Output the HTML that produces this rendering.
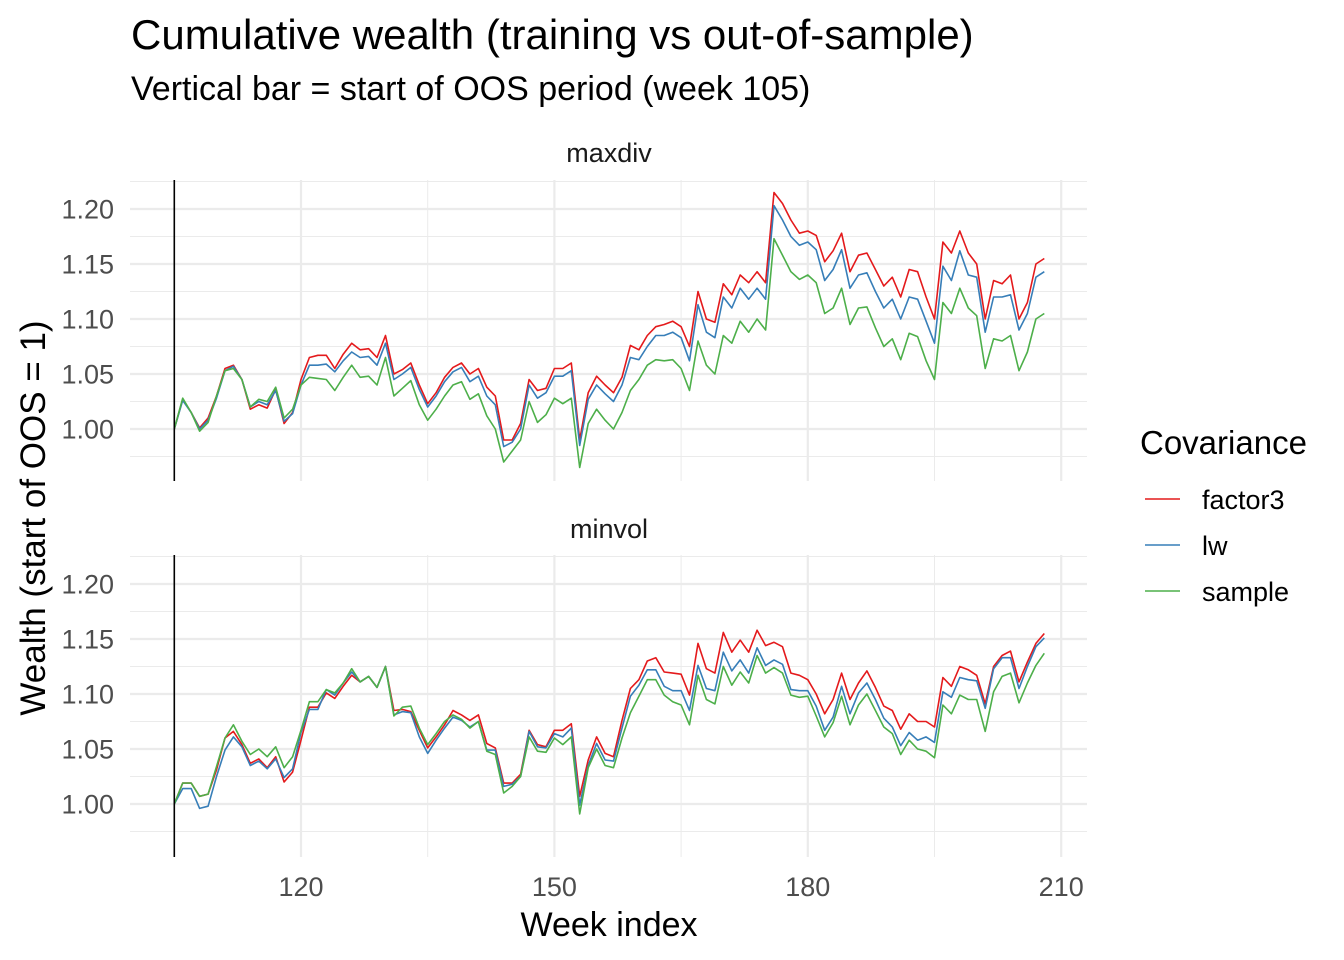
<!DOCTYPE html>
<html><head><meta charset="utf-8"><style>
body{margin:0;background:#fff;}
svg{display:block;font-family:"Liberation Sans",Arial,sans-serif;}
</style></head><body>
<svg id="chart" width="1344" height="960">
<text x="131" y="49" font-size="42" fill="#000">Cumulative wealth (training vs out-of-sample)</text>
<text x="131" y="100" font-size="34" fill="#000">Vertical bar = start of OOS period (week 105)</text>
<text x="609" y="162" font-size="27" fill="#1a1a1a" text-anchor="middle">maxdiv</text>
<text x="609" y="538" font-size="27" fill="#1a1a1a" text-anchor="middle">minvol</text>
<text x="609" y="936" font-size="34" fill="#000" text-anchor="middle">Week index</text>
<text transform="translate(45,518) rotate(-90)" font-size="35" fill="#000" text-anchor="middle">Wealth (start of OOS = 1)</text>
<g>
<text x="1140" y="454" font-size="33" fill="#000">Covariance</text>
<g><line x1="1145" x2="1180" y1="499" y2="499" stroke="#E41A1C" stroke-width="1.6"/><text x="1202" y="509" font-size="27">factor3</text></g>
<g><line x1="1145" x2="1180" y1="545" y2="545" stroke="#377EB8" stroke-width="1.6"/><text x="1202" y="555" font-size="27">lw</text></g>
<g><line x1="1145" x2="1180" y1="591" y2="591" stroke="#4DAF4A" stroke-width="1.6"/><text x="1202" y="601" font-size="27">sample</text></g>
</g>
<g id="plots"></g>
</svg>
<script>
const startWeek = 105;
const xTicks = [120, 150, 180, 210];
const xMinor = [105, 135, 165, 195];
const yTicks = [1.00, 1.05, 1.10, 1.15, 1.20];
const yTickLabels = ["1.00", "1.05", "1.10", "1.15", "1.20"];
const yMinor = [0.975, 1.025, 1.075, 1.125, 1.175, 1.225];
const seriesNames = ["factor3", "lw", "sample"];
const maxdivFactor3 = [1.000,1.027,1.015,1.001,1.010,1.030,1.055,1.058,1.045,1.018,1.022,1.019,1.036,1.005,1.015,
1.045,1.065,1.067,1.067,1.055,1.068,1.078,1.072,1.073,1.065,1.085,1.050,1.054,1.060,1.040,
1.023,1.033,1.047,1.056,1.060,1.050,1.055,1.038,1.030,0.990,0.990,1.005,1.045,1.035,1.037,
1.055,1.055,1.060,0.990,1.033,1.048,1.040,1.033,1.047,1.076,1.072,1.085,1.093,1.095,1.098,
1.093,1.075,1.125,1.100,1.097,1.132,1.122,1.140,1.133,1.143,1.133,1.215,1.205,1.190,1.178,
1.180,1.176,1.152,1.162,1.178,1.143,1.158,1.160,1.145,1.130,1.138,1.120,1.145,1.143,1.120,
1.100,1.170,1.160,1.180,1.160,1.150,1.100,1.135,1.132,1.140,1.100,1.115,1.150,1.155];
const maxdivLw = [1.000,1.026,1.015,1.000,1.008,1.028,1.053,1.057,1.045,1.020,1.025,1.022,1.035,1.007,1.014,
1.040,1.058,1.058,1.059,1.052,1.062,1.070,1.065,1.066,1.058,1.078,1.045,1.050,1.056,1.036,
1.020,1.030,1.043,1.052,1.056,1.043,1.048,1.030,1.022,0.984,0.988,1.000,1.040,1.028,1.033,
1.048,1.048,1.053,0.985,1.027,1.040,1.032,1.025,1.040,1.065,1.063,1.075,1.085,1.085,1.088,
1.083,1.062,1.113,1.088,1.083,1.120,1.110,1.128,1.118,1.128,1.118,1.203,1.190,1.175,1.167,
1.170,1.163,1.135,1.145,1.163,1.128,1.140,1.142,1.125,1.110,1.118,1.100,1.120,1.118,1.098,
1.078,1.148,1.135,1.162,1.140,1.138,1.088,1.120,1.120,1.122,1.090,1.105,1.138,1.143];
const maxdivSample = [1.000,1.028,1.015,0.998,1.006,1.030,1.053,1.055,1.045,1.020,1.027,1.025,1.038,1.010,1.018,
1.040,1.047,1.046,1.045,1.035,1.047,1.058,1.047,1.048,1.040,1.065,1.030,1.037,1.044,1.022,
1.008,1.018,1.030,1.040,1.043,1.027,1.032,1.012,1.000,0.970,0.980,0.990,1.025,1.006,1.013,
1.028,1.023,1.028,0.965,1.005,1.018,1.008,1.000,1.015,1.035,1.045,1.058,1.063,1.062,1.063,
1.055,1.035,1.080,1.058,1.050,1.085,1.078,1.098,1.088,1.100,1.090,1.173,1.158,1.143,1.136,
1.140,1.133,1.105,1.110,1.128,1.095,1.110,1.111,1.092,1.075,1.082,1.063,1.087,1.084,1.062,
1.045,1.115,1.105,1.128,1.110,1.103,1.055,1.082,1.080,1.085,1.053,1.070,1.100,1.105];
const minvolFactor3 = [1.000,1.019,1.019,1.007,1.009,1.031,1.060,1.066,1.054,1.037,1.041,1.033,1.043,1.020,1.029,
1.058,1.088,1.088,1.101,1.096,1.107,1.117,1.111,1.116,1.106,1.125,1.085,1.086,1.084,1.067,
1.051,1.061,1.072,1.085,1.081,1.076,1.081,1.055,1.051,1.019,1.019,1.027,1.067,1.054,1.052,
1.067,1.067,1.073,1.007,1.040,1.061,1.046,1.043,1.076,1.105,1.113,1.130,1.133,1.120,1.119,
1.118,1.099,1.146,1.123,1.119,1.156,1.138,1.149,1.138,1.158,1.144,1.147,1.143,1.119,1.117,
1.113,1.100,1.082,1.095,1.119,1.095,1.110,1.121,1.106,1.089,1.085,1.068,1.082,1.075,1.075,
1.070,1.115,1.107,1.125,1.122,1.117,1.091,1.125,1.135,1.139,1.111,1.129,1.146,1.155];
const minvolLw = [1.000,1.014,1.014,0.996,0.998,1.025,1.049,1.061,1.052,1.035,1.039,1.032,1.041,1.024,1.032,
1.065,1.086,1.086,1.104,1.099,1.110,1.120,1.111,1.116,1.106,1.125,1.081,1.084,1.083,1.061,
1.046,1.058,1.069,1.079,1.076,1.070,1.075,1.049,1.049,1.016,1.018,1.025,1.066,1.052,1.051,
1.064,1.061,1.069,0.999,1.035,1.055,1.040,1.039,1.069,1.098,1.108,1.122,1.122,1.107,1.103,
1.103,1.085,1.126,1.105,1.103,1.138,1.121,1.131,1.119,1.142,1.126,1.131,1.127,1.104,1.103,
1.103,1.089,1.067,1.079,1.107,1.082,1.101,1.110,1.095,1.078,1.070,1.053,1.065,1.058,1.061,
1.056,1.102,1.097,1.115,1.113,1.112,1.087,1.123,1.133,1.133,1.105,1.125,1.143,1.151];
const minvolSample = [1.000,1.019,1.019,1.007,1.009,1.034,1.060,1.072,1.057,1.045,1.050,1.043,1.052,1.033,1.043,
1.067,1.093,1.093,1.104,1.101,1.110,1.123,1.111,1.116,1.106,1.125,1.080,1.088,1.089,1.069,
1.054,1.064,1.075,1.081,1.077,1.069,1.075,1.048,1.045,1.010,1.016,1.025,1.061,1.048,1.047,
1.060,1.054,1.061,0.991,1.033,1.050,1.035,1.033,1.060,1.083,1.098,1.113,1.113,1.099,1.093,
1.090,1.072,1.117,1.095,1.091,1.125,1.108,1.120,1.110,1.135,1.119,1.124,1.119,1.099,1.097,
1.098,1.080,1.061,1.074,1.098,1.072,1.090,1.100,1.085,1.070,1.064,1.045,1.058,1.050,1.048,
1.042,1.090,1.082,1.099,1.095,1.095,1.066,1.102,1.116,1.119,1.092,1.110,1.126,1.137];

const NS = "http://www.w3.org/2000/svg";
const colors = {factor3: "#E41A1C", lw: "#377EB8", sample: "#4DAF4A"};
const plotL = 130, plotR = 1087;
function xScale(w) { return 301 + (w - 120) * (253.4 / 30); }
const panels = [
  {name: "maxdiv", top: 180, bottom: 481, y1: 429, data: {factor3: maxdivFactor3, lw: maxdivLw, sample: maxdivSample}},
  {name: "minvol", top: 555, bottom: 857, y1: 804, data: {factor3: minvolFactor3, lw: minvolLw, sample: minvolSample}}
];
const root = document.getElementById("plots");
function mk(tag, attrs, parent) {
  const el = document.createElementNS(NS, tag);
  for (const k in attrs) el.setAttribute(k, attrs[k]);
  parent.appendChild(el);
  return el;
}
panels.forEach(p => {
  const yScale = v => p.y1 - (v - 1) * 1100;
  const g = mk("g", {}, root);
  
  
  yMinor.forEach(v => {
    const y = yScale(v);
    if (y < p.top || y > p.bottom) return;
    const l = mk("line", {x1: plotL, x2: plotR, y1: y, y2: y, stroke: "#ebebeb", "stroke-width": 1}, g);
    
    
  });
  xMinor.forEach(w => {
    const l = mk("line", {x1: xScale(w), x2: xScale(w), y1: p.top, y2: p.bottom, stroke: "#ebebeb", "stroke-width": 1}, g);
    
    
  });
  yTicks.forEach((v, i) => {
    const y = yScale(v);
    const l = mk("line", {x1: plotL, x2: plotR, y1: y, y2: y, stroke: "#ebebeb", "stroke-width": 2.2}, g);
    
    
    const t = mk("text", {x: 114, y: y + 9.5, "font-size": 27, fill: "#4d4d4d", "text-anchor": "end"}, g);
    t.textContent = yTickLabels[i];
    
    
  });
  xTicks.forEach(w => {
    const l = mk("line", {x1: xScale(w), x2: xScale(w), y1: p.top, y2: p.bottom, stroke: "#ebebeb", "stroke-width": 2.2}, g);
    
    
  });
  seriesNames.forEach(s => {
    const vals = p.data[s];
    const pts = vals.map((v, i) => xScale(startWeek + i).toFixed(1) + "," + yScale(v).toFixed(1)).join(" ");
    const pl = mk("polyline", {points: pts, fill: "none", stroke: colors[s], "stroke-width": 1.6, "stroke-linejoin": "round"}, g);
    
    
  });
  const vb = mk("line", {x1: xScale(startWeek), x2: xScale(startWeek), y1: p.top, y2: p.bottom, stroke: "#000", "stroke-width": 1.6}, g);
  
  
});
xTicks.forEach(w => {
  const t = mk("text", {x: xScale(w), y: 896, "font-size": 27, fill: "#4d4d4d", "text-anchor": "middle"}, root);
  t.textContent = String(w);
  
  
});
</script>
</body></html>
